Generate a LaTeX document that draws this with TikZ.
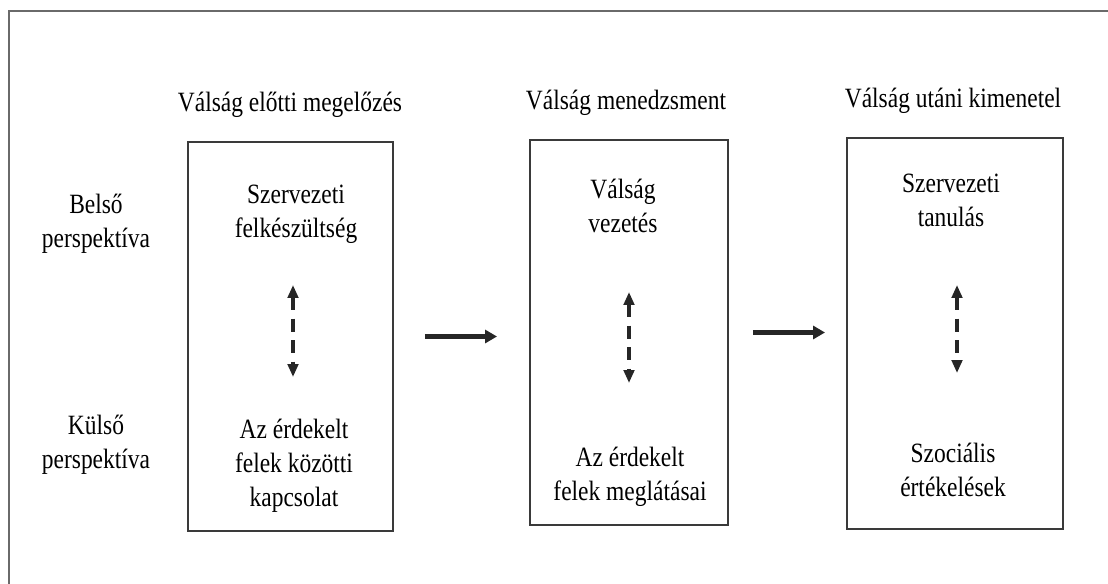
\documentclass[tikz,border=0pt]{standalone}
\usepackage{fontspec}
\setmainfont[FakeStretch=0.84]{Liberation Serif}
\usepackage{xcolor}
\usepackage{tikz}
\usetikzlibrary{
  arrows.meta,
  positioning,
  calc,
}

\definecolor{boxline}{HTML}{3A3A3A}
\definecolor{frameline}{HTML}{6A6A6A}

\begin{document}
\begin{tikzpicture}[
  x=0.02cm, y=-0.02cm,
  font=\fontsize{15.9}{19.4}\selectfont,
  every node/.style={align=center, inner sep=0pt},
  stage/.style={draw=boxline, line width=1.1pt, minimum width=#1*0.02cm},
  arrow/.style={-{Triangle[length=0.24cm, width=0.26cm]}, line width=2.3pt, color=black!85},
  dasharrow/.style={{Triangle[length=0.26cm, width=0.21cm]}-{Triangle[length=0.26cm, width=0.21cm]},
                    line width=1.8pt, color=black!85,
                    dash pattern=on 0.26cm off 0.17cm},
]
\useasboundingbox (0,0) rectangle (1108,584);

% frame (cut off on the right and at the bottom)
\draw[frameline, line width=1.1pt] (1108,11) -- (9,11) -- (9,584);

% the three stages
\node[stage=205, minimum height=389*0.02cm] (box1) at (290.5,336.5) {};
\node[stage=198, minimum height=385*0.02cm] (box2) at (629,332.5) {};
\node[stage=216, minimum height=391*0.02cm] (box3) at (955,333.5) {};

\node (head1) at (290,105) {Válság előtti megelőzés};
\node (head2) at (626,103) {Válság menedzsment};
\node (head3) at (953,101) {Válság utáni kimenetel};

\node (inner) at (96,224) {Belső\\perspektíva};
\node (outer) at (96,445) {Külső\\perspektíva};

\node (prep)   at (296,214) {Szervezeti\\felkészültség};
\node (rel)    at (294,466) {Az érdekelt\\felek közötti\\kapcsolat};
\node (lead)   at (623,206) {Válság\\vezetés};
\node (views)  at (630,477) {Az érdekelt\\felek meglátásai};
\node (learn)  at (951,200) {Szervezeti\\tanulás};
\node (social) at (953,470) {Szociális\\értékelések};

% inside / outside links
\coordinate (t1) at (293,285);
\coordinate (b1) at (293,377);
\coordinate (t2) at (629,292);
\coordinate (b2) at (629,383);
\coordinate (t3) at (957,285);
\coordinate (b3) at (957,373);
\draw[dasharrow] (t1) -- (b1);
\draw[dasharrow] (t2) -- (b2);
\draw[dasharrow] (t3) -- (b3);

% from stage to stage
\draw[arrow, shorten <=31*0.02cm, shorten >=32*0.02cm]
  (box1.east) -- (box1.east -| box2.west);
\draw[arrow, shorten <=24*0.02cm, shorten >=21*0.02cm]
  (box2.east) -- (box2.east -| box3.west);

\end{tikzpicture}
\end{document}
